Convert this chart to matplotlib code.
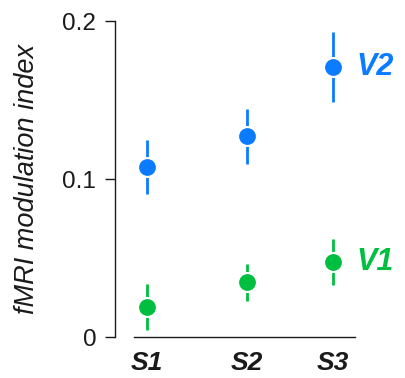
import numpy as np
import matplotlib
matplotlib.use("Agg")
import matplotlib.pyplot as plt

plt.rcParams['font.family'] = ['Liberation Sans', 'DejaVu Sans']

sessions = ["S1", "S2", "S3"]
x_pos = [1.0, 2.0, 2.86]
v2_mean = [0.1076, 0.1272, 0.1709]
v2_err = [0.0174, 0.0174, 0.0219]
v1_mean = [0.0190, 0.0348, 0.0475]
v1_err = [0.0143, 0.0117, 0.0143]

BLUE = "#0B7BFF"
GREEN = "#00BF40"
INK = "#1a1a1a"

W, H = 406, 378
fig = plt.figure(figsize=(W / 100, H / 100), dpi=100)
ax = fig.add_axes([115 / W, (H - 337) / H, 240 / W, 316 / H])

for mean, err, col, name in [(v2_mean, v2_err, BLUE, "V2"),
                             (v1_mean, v1_err, GREEN, "V1")]:
    ax.errorbar(x_pos, mean, yerr=err, fmt="none", ecolor=col,
                elinewidth=2.0, capsize=0, zorder=2)
    ax.plot(x_pos, mean, "o", ms=13.6, color=col, mec="white",
            mew=1.5, zorder=3, clip_on=False)
    ax.annotate(name, xy=(x_pos[-1], mean[-1]), xytext=(17, 0),
                textcoords="offset points", va="center", ha="left",
                color=col, fontsize=22, fontweight="bold",
                fontstyle="italic", annotation_clip=False)

ax.set_xlim(0.68, 3.08)
ax.set_ylim(0, 0.2)
ax.set_yticks([0, 0.1, 0.2])
ax.set_yticklabels(["0", "0.1", "0.2"])
ax.set_xticks(x_pos)
ax.set_xticklabels(sessions, fontweight="bold", fontstyle="italic",
                   fontsize=19)
ax.tick_params(axis="x", length=0, pad=10, colors=INK)
ax.tick_params(axis="y", length=7.5, width=1.0, direction="out",
               pad=6, labelsize=17.5, colors=INK)

for s in ["top", "right"]:
    ax.spines[s].set_visible(False)
ax.spines["left"].set_linewidth(1.0)
ax.spines["bottom"].set_linewidth(1.0)
ax.spines["left"].set_color(INK)
ax.spines["bottom"].set_color(INK)
ax.spines["bottom"].set_bounds(0.87, 3.08)

ax.set_ylabel("fMRI modulation index", fontstyle="italic", fontsize=19.5,
              color=INK)
ax.yaxis.set_label_coords(-75 / 240, 0.5)

fig.savefig("out.png", dpi=100)
